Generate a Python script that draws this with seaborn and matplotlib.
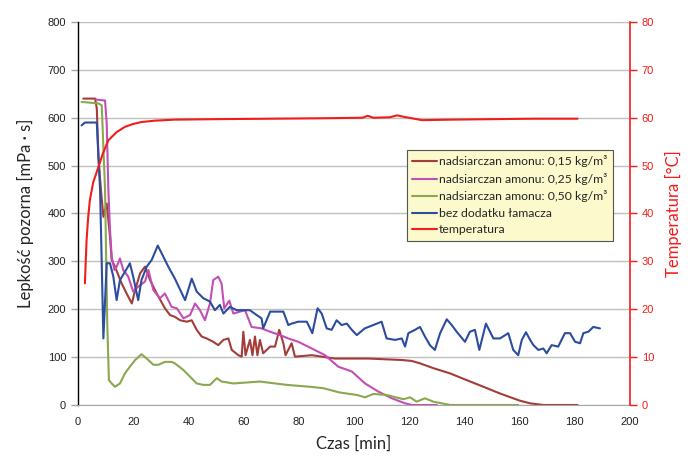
import matplotlib
matplotlib.use("Agg")
import matplotlib.pyplot as plt
import seaborn as sns
import pandas as pd
from matplotlib.lines import Line2D

# ---- data ----
t_015 = [1.9, 6.2, 6.8, 7.4, 8.3, 9.2, 10.4, 11.6, 12.2, 13.4, 15.8, 17.6, 19.5, 20.7, 22.5,
         24.3, 26.1, 28.5, 31.5, 33.3, 35.1, 37, 39.4, 41.2, 43, 44.8, 46.6, 49, 50.8, 52.7,
         54.5, 55.7, 58.1, 59.3, 59.9, 60.7, 62.3, 63.2, 64.1, 65, 65.9, 67.1, 69.6, 71.4, 72.9,
         74.4, 75.2, 77.4, 78.6, 84.7, 93.1, 105.2, 117.3, 120.9, 123.9, 128.7, 134.8, 140.8,
         146.9, 152.9, 157.7, 160.1, 163.8, 168.6, 181]
v_015 = [640, 640, 620, 518, 450, 393, 421, 351, 303, 289, 254, 233, 212, 240, 275,
         289, 261, 233, 202, 188, 184, 177, 174, 177, 157, 143, 139, 132, 125, 136,
         139, 115, 104, 101, 153, 104, 136, 104, 143, 104, 136, 108, 122, 122, 157,
         129, 104, 129, 101, 104, 97, 97, 94, 92, 87, 77, 66, 52,
         38, 24, 14, 9, 3.5, 0, 0]

t_025 = [6.5, 9.8, 10.4, 11, 11.6, 12.2, 13.2, 14, 15.2, 16.4, 18.2, 20, 21.8, 24.3, 25.5,
         27.3, 29.7, 31.5, 33.9, 35.8, 38.2, 40.6, 42.4, 44.2, 46, 47.8, 49, 50.8, 52, 53,
         54.8, 56.3, 60.5, 62.9, 66.5, 69.6, 73.2, 76.2, 79.8, 84.7, 89.5, 94.3, 99.2, 104,
         108.8, 113.7, 118.5, 121, 130]
v_025 = [638, 636, 588, 449, 365, 310, 282, 289, 306, 282, 268, 237, 247, 258, 282,
         240, 223, 233, 205, 202, 181, 188, 212, 198, 177, 212, 261, 268, 254, 202,
         218, 191, 198, 163, 160, 153, 146, 139, 132, 118, 104, 80, 70, 45,
         28, 14, 3.5, 0, 0]

t_050 = [1.3, 7.4, 8.6, 9.8, 10.6, 11.2, 12.2, 13.4, 15.2, 17, 18.8, 20.7, 23, 24.9, 27.3,
         29.1, 31.5, 33.9, 35.1, 38.2, 40.6, 43, 45.4, 47.8, 50.3, 52, 56.3, 65.9, 75.6, 84.1,
         88.9, 94.9, 101, 104, 107, 111.8, 117.9, 120.3, 122.7, 125.7, 128.7, 134.8, 159.5]
v_050 = [633, 630, 626, 449, 170, 52, 45, 38, 45, 66, 80, 94, 106, 97, 84,
         84, 90, 90, 87, 73, 59, 45, 42, 42, 56, 49, 45, 49, 42, 38,
         35, 26, 21, 16, 23, 21, 12, 16, 7, 14, 7, 0, 0]

t_bez = [1.3, 2.5, 6.8, 8, 9.2, 10.4, 11.6, 12.8, 14, 15.2, 17, 18.8, 20, 21.8, 23,
         24.9, 26.7, 28.9, 30.9, 32.7, 35.1, 38.8, 41.2, 43, 45.4, 47.8, 49.6, 51.4, 52.7, 55,
         57.5, 62.3, 64.7, 66.5, 67.1, 69.6, 72.6, 74.4, 76.2, 77.4, 79.8, 82.9, 84.9, 86.8, 88.3,
         90.1, 91.9, 93.7, 95.5, 97.4, 99.2, 101, 103.9, 107, 110, 111.8, 114.9, 117.3, 118.5, 119.7,
         122.1, 123.9, 125.7, 127.5, 129.3, 131.2, 133.6, 135.4, 137.2, 140.2, 142, 143.8, 145.4, 147.8, 150.5,
         152.9, 155.9, 157.7, 159.5, 160.8, 162.3, 163.8, 165, 166.8, 168.6, 169.8, 171.6, 174, 176.4, 178.3,
         180.1, 181.9, 183.1, 184.9, 186.7, 189.1]
v_bez = [584, 590, 590, 449, 139, 296, 296, 268, 219, 261, 278, 296, 268, 219, 261,
         289, 303, 333, 310, 289, 264, 219, 264, 237, 223, 216, 198, 209, 191, 205,
         198, 198, 188, 181, 160, 195, 195, 195, 167, 170, 174, 174, 150, 202, 191,
         160, 157, 177, 167, 170, 157, 146, 160, 167, 174, 139, 136, 139, 122, 150,
         157, 163, 143, 125, 115, 150, 179, 167, 153, 132, 153, 157, 115, 170, 139,
         139, 150, 115, 104, 136, 152, 136, 125, 115, 118, 108, 125, 122, 150, 150,
         132, 129, 150, 153, 163, 160]

t_temp = [2.5, 3.1, 3.7, 4.3, 5.5, 7.4, 9, 11, 14, 17, 20, 23, 28, 35, 50, 70, 90, 103,
          105, 107, 113, 115.6, 118, 124.6, 135, 150, 165, 181]
v_temp = [25.4, 34.4, 39.3, 42.8, 46.5, 49.7, 52.5, 55.3, 57, 58.1, 58.7, 59.1, 59.4, 59.6,
          59.7, 59.8, 59.9, 60, 60.4, 60, 60.1, 60.5, 60.2, 59.5, 59.6, 59.7, 59.8, 59.8]

labels = ["nadsiarczan amonu: 0,15 kg/m³", "nadsiarczan amonu: 0,25 kg/m³",
          "nadsiarczan amonu: 0,50 kg/m³", "bez dodatku łamacza", "temperatura"]
colors = ["#A33D3A", "#C24FB6", "#8AA84D", "#2C4D9E", "#F21C1C"]

x_ticks = list(range(0, 201, 20))
y_ticks = list(range(0, 801, 100))
y2_ticks = list(range(0, 81, 10))

# ---- plot ----
sns.set_style("white")
plt.rcParams['font.family'] = ['Liberation Sans', 'DejaVu Sans']
LW = 1.5

fig = plt.figure(figsize=(6.94, 4.62), dpi=100)
ax = fig.add_axes([0.1124, 0.1234, 0.7954, 0.829])
ax2 = ax.twinx()

series = [(t_015, v_015), (t_025, v_025), (t_050, v_050), (t_bez, v_bez)]
for (tt, vv), lab, col in zip(series, labels[:4], colors[:4]):
    df = pd.DataFrame({"t": tt, "v": vv})
    sns.lineplot(data=df, x="t", y="v", ax=ax, color=col, lw=LW, sort=False,
                 estimator=None, legend=False)
dft = pd.DataFrame({"t": t_temp, "v": v_temp})
sns.lineplot(data=dft, x="t", y="v", ax=ax2, color=colors[4], lw=LW, sort=False,
             estimator=None, legend=False)

ax.set_xlim(0, 200)
ax.set_ylim(0, 800)
ax2.set_ylim(0, 80)
ax.set_xticks(x_ticks)
ax.set_yticks(y_ticks)
ax2.set_yticks(y2_ticks)
ax.yaxis.grid(True, color="#BFBFBF", lw=1.0)
ax.xaxis.grid(False)
ax2.grid(False)
ax.set_axisbelow(True)

ax.spines["top"].set_visible(False)
ax2.spines["top"].set_visible(False)
ax.spines["left"].set_color("black")
ax.spines["left"].set_linewidth(1.0)
ax.spines["bottom"].set_color("#A6A6A6")
ax2.spines["left"].set_visible(False)
ax2.spines["bottom"].set_visible(False)
ax.spines["right"].set_visible(False)
ax2.spines["right"].set_color("#F21C1C")
ax2.spines["right"].set_linewidth(1.2)

ax.tick_params(axis="both", direction="out", length=5, width=1, color="#A6A6A6",
               labelsize=8, labelcolor="#222222")
ax.tick_params(axis="x", pad=4)
ax2.tick_params(axis="y", direction="out", length=5, width=1, color="#F21C1C",
                labelsize=8, labelcolor="#F21C1C")

ax.set_xlabel("Czas [min]", fontsize=12, family=["Lato", "DejaVu Sans"], labelpad=6)
ax.set_ylabel("Lepkość pozorna [mPa · s]", fontsize=12, family=["Lato", "DejaVu Sans"], labelpad=10)
ax2.set_ylabel("Temperatura [°C]", fontsize=12, family=["Lato", "DejaVu Sans"],
               color="#F21C1C", labelpad=8)

hs = [Line2D([0], [0], color=c, lw=LW) for c in colors]
leg = ax2.legend(hs, labels, loc="upper right", bbox_to_anchor=(0.969, 0.666),
                 prop={"family": ["Lato", "DejaVu Sans"], "size": 8.8},
                 frameon=True, fancybox=False, framealpha=1, handlelength=2.0,
                 handletextpad=0.2, borderpad=0.45, labelspacing=0.45, borderaxespad=0)
leg.get_frame().set_facecolor("#FCF9CC")
leg.get_frame().set_edgecolor("#555555")
leg.get_frame().set_linewidth(0.8)

fig.savefig("out.png", dpi=100)
